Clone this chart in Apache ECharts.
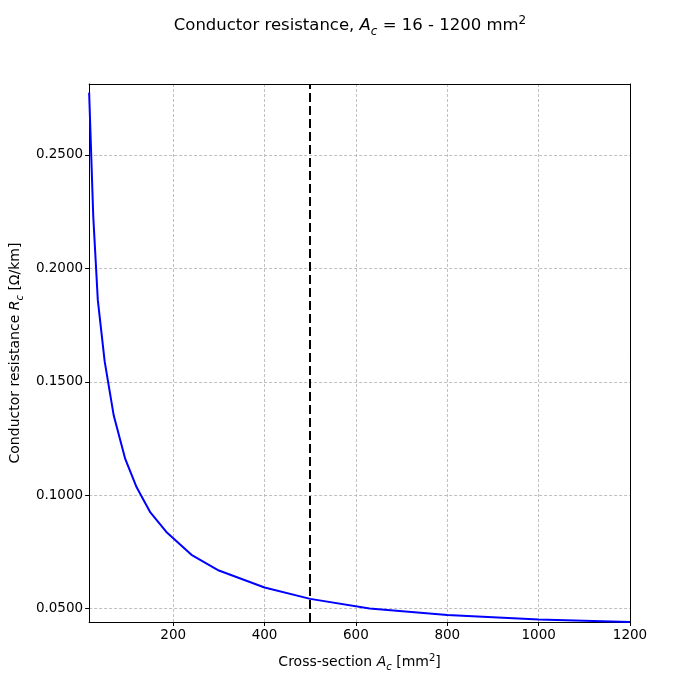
<!DOCTYPE html>
<html>
<head>
<meta charset="utf-8">
<script src="https://cdn.jsdelivr.net/npm/echarts@6/dist/echarts.min.js"></script>
<style>html,body{margin:0;padding:0;background:#fff}#c{width:700px;height:700px}</style>
</head>
<body>
<div id="c"></div>
<script>
const crossSections = [16, 25, 35, 50, 70, 95, 120, 150, 185, 240, 300, 400, 500, 630, 800, 1000, 1200];
const resistance = [0.2775, 0.2230, 0.1860, 0.1590, 0.1350, 0.1160, 0.1035, 0.0924, 0.0838, 0.0737, 0.0668, 0.0593, 0.0543, 0.0501, 0.0472, 0.0452, 0.0441];
const xTicks = [200, 400, 600, 800, 1000, 1200];
const yTicks = [0.05, 0.10, 0.15, 0.20, 0.25];
const selectedSection = 500;
const xMin = 16, xMax = 1200;
const yMin = 0.0441, yMax = 0.2813;

const font = 'DejaVu Sans';
const chart = echarts.init(document.getElementById('c'), null, {renderer: 'canvas'});
function richSet(big, small, lift, sup) {
  return {
    n: {fontFamily: font, fontSize: big, fontWeight: 'normal', color: '#000', padding: [0, 0, lift, 0], verticalAlign: 'bottom'},
    i: {fontFamily: font, fontSize: big, fontWeight: 'normal', fontStyle: 'italic', color: '#000', padding: [0, 0, lift, 0], verticalAlign: 'bottom'},
    s: {fontFamily: font, fontSize: small, fontWeight: 'normal', fontStyle: 'italic', color: '#000', verticalAlign: 'bottom'},
    p: {fontFamily: font, fontSize: small, fontWeight: 'normal', color: '#000', padding: [0, 0, sup, 0], verticalAlign: 'bottom'}
  };
}
const richBase = richSet(14, 10, 3, 9);
const richTitle = richSet(16.5, 12, 4, 11);
const gridLine = {show: true, lineStyle: {color: '#b0b0b0', width: 0.8, type: [3, 2]}};
const frameAxis = {
  axisLine: {show: true, onZero: false, lineStyle: {color: '#000', width: 1}},
  axisTick: {show: false}, axisLabel: {show: false}, splitLine: {show: false}
};

chart.setOption({
  animation: false,
  backgroundColor: '#fff',
  title: {
    text: '{n|Conductor resistance, }{i|A}{s|c}{n| = 16 - 1200 mm}{p|2}',
    left: 'center', top: 10,
    textStyle: {fontWeight: 'normal', rich: richTitle}
  },
  grid: {left: 88, right: 70, top: 84, bottom: 78, show: false},
  xAxis: [{
    type: 'value', min: xMin, max: xMax,
    name: '{n|Cross-section }{i|A}{s|c}{n| [mm}{p|2}{n|]}',
    nameLocation: 'middle', nameGap: 31,
    nameTextStyle: {rich: richBase},
    axisLine: {show: true, onZero: false, lineStyle: {color: '#000', width: 1}},
    axisTick: {show: true, length: 4, lineStyle: {color: '#000'}, customValues: xTicks},
    axisLabel: {fontFamily: font, fontSize: 13.5, color: '#000', margin: 6, customValues: xTicks,
      formatter: v => String(Math.round(v))},
    splitLine: gridLine
  }, Object.assign({type: 'value', min: xMin, max: xMax, position: 'top'}, frameAxis)],
  yAxis: [{
    type: 'value', min: yMin, max: yMax,
    name: '{n|Conductor resistance }{i|R}{s|c}{n| [Ω/km]}',
    nameLocation: 'middle', nameGap: 62, nameRotate: 90,
    nameTextStyle: {rich: richBase},
    axisLine: {show: true, onZero: false, lineStyle: {color: '#000', width: 1}},
    axisTick: {show: true, length: 4, lineStyle: {color: '#000'}, customValues: yTicks},
    axisLabel: {fontFamily: font, fontSize: 13.5, color: '#000', margin: 6, customValues: yTicks,
      formatter: v => v.toFixed(4)},
    splitLine: gridLine
  }, Object.assign({type: 'value', min: yMin, max: yMax, position: 'right'}, frameAxis)],
  series: [{
    type: 'line',
    data: crossSections.map((a, k) => [a, resistance[k]]),
    showSymbol: false,
    lineStyle: {color: '#0000ff', width: 2},
    clip: true,
    markLine: {
      silent: true, symbol: 'none', label: {show: false},
      lineStyle: {color: '#000', width: 2, type: [9, 4]},
      data: [{xAxis: selectedSection}]
    }
  }]
});
</script>
</body>
</html>
